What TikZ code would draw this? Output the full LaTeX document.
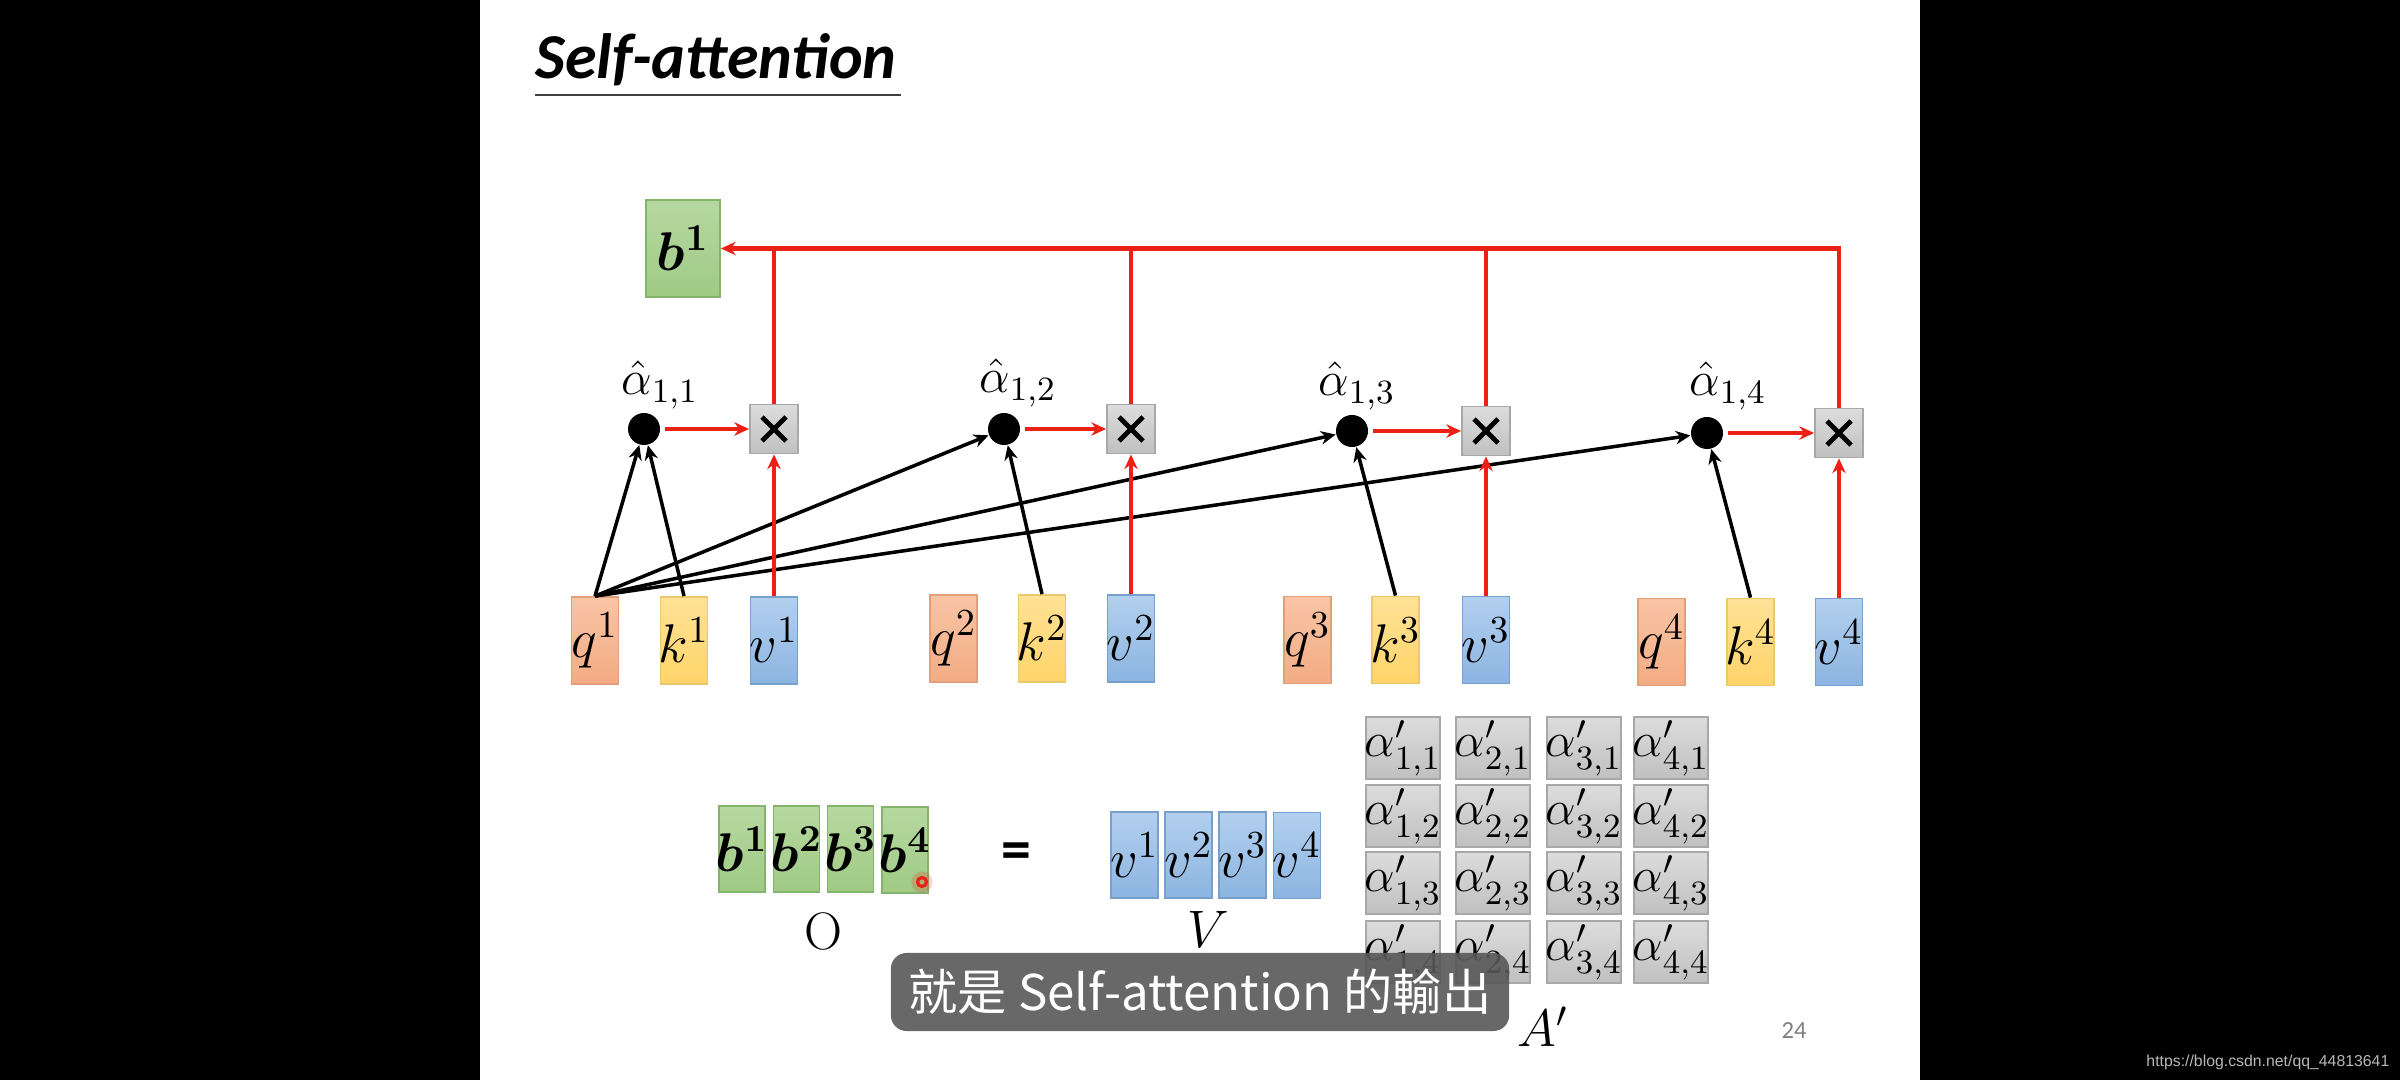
\RequirePackage{fix-cm}
\documentclass[tikz,border=0pt]{standalone}
\usepackage{amsmath}
\usepackage{bm}
\usepackage{fontspec}
\usetikzlibrary{arrows.meta}
\newfontfamily\carlito{Carlito}
\newfontfamily\cjkfont{Noto Sans CJK TC}
\newfontfamily\libsans{Liberation Sans}
\newcommand{\fixw}[1]{\makebox[0pt]{#1}}
\definecolor{qtop}{RGB}{249,196,165}
\definecolor{qbot}{RGB}{242,172,132}
\definecolor{qbrd}{RGB}{226,160,122}
\definecolor{ktop}{RGB}{255,226,150}
\definecolor{kbot}{RGB}{255,212,105}
\definecolor{kbrd}{RGB}{235,200,110}
\definecolor{vtop}{RGB}{178,208,238}
\definecolor{vbot}{RGB}{140,180,225}
\definecolor{vbrd}{RGB}{120,160,205}
\definecolor{gtop}{RGB}{182,216,160}
\definecolor{gbot}{RGB}{160,202,132}
\definecolor{gbrd}{RGB}{130,180,110}
\definecolor{atop}{RGB}{220,220,220}
\definecolor{abot}{RGB}{192,192,192}
\definecolor{abrd}{RGB}{168,168,168}
\definecolor{linered}{RGB}{236,32,20}
\definecolor{subgrey}{RGB}{88,88,88}
\begin{document}
\begin{tikzpicture}[x=0.01cm,y=-0.01cm,
  vec/.style={draw, line width=0.5pt, minimum width=0.47cm, minimum height=0.87cm, inner sep=0pt, font=\fontsize{15.5}{15.5}\selectfont},
  qbox/.style={vec, draw=qbrd, top color=qtop, bottom color=qbot},
  kbox/.style={vec, draw=kbrd, top color=ktop, bottom color=kbot},
  vbox/.style={vec, draw=vbrd, top color=vtop, bottom color=vbot},
  bbox/.style={vec, draw=gbrd, top color=gtop, bottom color=gbot, minimum width=0.46cm, minimum height=0.86cm},
  abox/.style={draw=abrd, line width=0.5pt, top color=atop, bottom color=abot, minimum width=0.74cm, minimum height=0.62cm, inner sep=0pt, font=\fontsize{13.8}{13.8}\selectfont},
  dot/.style={circle, fill=black, minimum size=0.32cm, inner sep=0pt},
  lab/.style={inner sep=0pt, font=\fontsize{13.8}{13.8}\selectfont},
  mul/.style={draw=abrd, line width=0.5pt, top color=atop, bottom color=abot, minimum width=0.48cm, minimum height=0.49cm, inner sep=0pt,
    path picture={
      \draw[draw=black, line width=1.35pt] ([shift={(-12,-12)}]path picture bounding box.center) -- ([shift={(12,12)}]path picture bounding box.center);
      \draw[draw=black, line width=1.35pt] ([shift={(-12,12)}]path picture bounding box.center) -- ([shift={(12,-12)}]path picture bounding box.center);}},
  blk/.style={draw=black, line width=1pt, -{Stealth[length=4.2pt,width=3.8pt]}},
  redl/.style={draw=linered, line width=0.95pt},
  reda/.style={redl, -{Stealth[length=4.2pt,width=3.8pt]}},
  big/.style={inner sep=0pt, font=\fontsize{15}{15}\selectfont}
]
\useasboundingbox (0,0) rectangle (2400,1080);
\fill[black] (0,0) rectangle (2400,1080);
\fill[white] (480,0) rectangle (1920,1080);

% title
\node[anchor=base west, inner sep=0pt, font=\carlito\bfseries\itshape\fontsize{18.2}{18.2}\selectfont] (title) at (535,79) {Self-attention};
\draw[line width=0.6pt, black!75] (title.west |- 0,95) -- ([xshift=1pt]title.east |- 0,95);

% top output
\node[bbox, minimum width=0.74cm, minimum height=0.97cm] (b1) at (683,248.5) {\fixw{$\bm{b}^{\bm{1}}$}};

% q k v
\node[qbox] (q1) at (595,640.5) {\fixw{$q^1$}};
\node[kbox] (k1) at (684,640.5) {\fixw{$k^1$}};
\node[vbox] (v1) at (774,640.5) {\fixw{$v^1$}};
\node[qbox] (q2) at (953.5,638.5) {\fixw{$q^2$}};
\node[kbox] (k2) at (1042,638.5) {\fixw{$k^2$}};
\node[vbox] (v2) at (1131,638.5) {\fixw{$v^2$}};
\node[qbox] (q3) at (1307.5,640) {\fixw{$q^3$}};
\node[kbox] (k3) at (1395.5,640) {\fixw{$k^3$}};
\node[vbox] (v3) at (1486,640) {\fixw{$v^3$}};
\node[qbox] (q4) at (1661.5,642) {\fixw{$q^4$}};
\node[kbox] (k4) at (1750.5,642) {\fixw{$k^4$}};
\node[vbox] (v4) at (1839,642) {\fixw{$v^4$}};

% dots and multipliers
\node[dot] (d1) at (644,429) {};
\node[dot] (d2) at (1004,429) {};
\node[dot] (d3) at (1352,431) {};
\node[dot] (d4) at (1707,433) {};
\node[mul] (x1) at (774,429) {};
\node[mul] (x2) at (1131,429) {};
\node[mul] (x3) at (1486,431) {};
\node[mul] (x4) at (1839,433) {};
\node[lab] (l1) at (660,385) {$\hat{\alpha}_{1,1}$};
\node[lab] (l2) at (1018,383) {$\hat{\alpha}_{1,2}$};
\node[lab] (l3) at (1357,386) {$\hat{\alpha}_{1,3}$};
\node[lab] (l4) at (1728,386) {$\hat{\alpha}_{1,4}$};

% black arrows
\draw[blk] (q1.north) -- (d1);
\draw[blk] (k1.north) -- (d1);
\draw[blk] (q1.north) -- (d2);
\draw[blk] (k2.north) -- (d2);
\draw[blk] (q1.north) -- (d3);
\draw[blk] (k3.north) -- (d3);
\draw[blk] (q1.north) -- (d4);
\draw[blk] (k4.north) -- (d4);

% red arrows
\foreach \i in {1,2,3,4}{
  \draw[reda, shorten <=1.2pt] (d\i) -- (x\i);
  \draw[reda] (v\i.north) -- (x\i.south);
}
\draw[reda, line width=1.4pt] (x4.north) |- (b1.east);
\draw[redl] (x1.north) -- (x1.north |- b1.east);
\draw[redl] (x2.north) -- (x2.north |- b1.east);
\draw[redl] (x3.north) -- (x3.north |- b1.east);

% bottom: O = V A'
\node[bbox] (ob1) at (742,849) {\fixw{$\bm{b}^{\bm{1}}$}};
\node[bbox] (ob2) at (796.5,849) {\fixw{$\bm{b}^{\bm{2}}$}};
\node[bbox] (ob3) at (850.5,849) {\fixw{$\bm{b}^{\bm{3}}$}};
\node[bbox] (ob4) at (905,850) {\fixw{$\bm{b}^{\bm{4}}$}};
\node[inner sep=0pt, font=\carlito\bfseries\fontsize{17}{17}\selectfont] (eq) at (1016,856) {=};
\node[vbox, minimum height=0.86cm] (ov1) at (1134.5,855) {\fixw{$v^1$}};
\node[vbox, minimum height=0.86cm] (ov2) at (1188.5,855) {\fixw{$v^2$}};
\node[vbox, minimum height=0.86cm] (ov3) at (1242.5,855) {\fixw{$v^3$}};
\node[vbox, minimum height=0.86cm] (ov4) at (1297,855.5) {\fixw{$v^4$}};
\node[big] (Olab) at (823,931) {$\mathrm{O}$};
\node[big] (Vlab) at (1208,929) {$V$};

\foreach \i/\x in {1/1403,2/1493,3/1584,4/1671}{
  \foreach \j/\y in {1/748,2/816,3/883,4/952}{
    \node[abox] (a\i\j) at (\x,\y) {\fixw{$\alpha'_{\i,\j}$}};
  }
}
\node[big] (Alab) at (1543,1027) {$A'$};

% page number
\node[inner sep=0pt, text=black!50, font=\carlito\fontsize{7}{7}\selectfont] (pnum) at (1794,1031) {24};

% pointer
\fill[linered, opacity=0.2] (922,882) circle[radius=3pt];
\node[circle, draw=linered, line width=0.9pt, minimum size=0.09cm, inner sep=0pt] (ptr) at (922,882) {};

% subtitle
\node[fill=subgrey, fill opacity=0.9, text opacity=1, text=white, rounded corners=4.5pt, minimum width=6.18cm, minimum height=0.78cm, inner sep=0pt, font=\cjkfont\fontsize{14}{14}\selectfont] (sub) at (1200,992) {就是 Self-attention 的輸出};

% watermark
\node[anchor=east, inner sep=0pt, text=black!28, font=\libsans\fontsize{4.5}{4.5}\selectfont] (wm) at (2390,1062) {https://blog.csdn.net/qq\_44813641};
\end{tikzpicture}
\end{document}
